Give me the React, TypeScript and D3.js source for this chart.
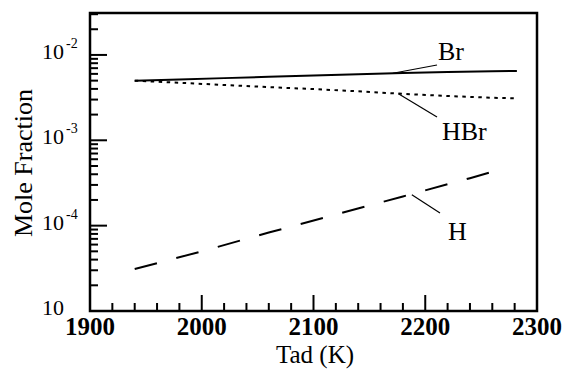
import * as d3 from "d3";

const width = 567;
const height = 370;
const marginTop = 13;
const marginRight = 30;
const marginBottom = 59;
const marginLeft = 90;

// temperatures (K) and mole fractions
const temps = [1940, 1980, 2020, 2060, 2100, 2140, 2180, 2220, 2260, 2282];
const br = [5.0e-3, 5.15e-3, 5.35e-3, 5.55e-3, 5.75e-3, 5.95e-3, 6.15e-3, 6.3e-3, 6.45e-3, 6.5e-3];
const hbr = [5.0e-3, 4.72e-3, 4.45e-3, 4.2e-3, 3.98e-3, 3.75e-3, 3.5e-3, 3.3e-3, 3.15e-3, 3.1e-3];
const hTemps = [1940, 2000, 2060, 2120, 2180, 2240, 2266];
const hFrac = [3.1e-5, 5.0e-5, 8.3e-5, 1.35e-4, 2.2e-4, 3.6e-4, 4.5e-4];

const xTicks = [1900, 2000, 2100, 2200, 2300];
const yDecades = [
  { v: 1e-2, exp: "-2" },
  { v: 1e-3, exp: "-3" },
  { v: 1e-4, exp: "-4" },
  { v: 1e-5, exp: "" },
];

// series labels: where the leader touches the curve, leader end, text position
const labels = [
  { name: "Br", t: 2171, v: 6.1e-3, ex: 437, ey: 65, lx: 438, ly: 60 },
  { name: "HBr", t: 2176, v: 3.52e-3, ex: 437, ey: 117, lx: 442, ly: 140 },
  { name: "H", t: 2188, v: 2.3e-4, ex: 440, ey: 213, lx: 448, ly: 240 },
];

const serif = '"Liberation Serif", "DejaVu Serif", serif';

const App = () => {
  const x = d3
    .scaleLinear()
    .domain([1900, 2300])
    .range([marginLeft, width - marginRight]);
  const y = d3
    .scaleLog()
    .domain([1e-5, 3.1e-2])
    .range([height - marginBottom, marginTop]);

  const line = d3
    .line<[number, number]>()
    .x((d) => x(d[0]))
    .y((d) => y(d[1]));

  const brPath = line(temps.map((t, i) => [t, br[i]]) as [number, number][]) as string;
  const hbrPath = line(temps.map((t, i) => [t, hbr[i]]) as [number, number][]) as string;
  const hPath = line(hTemps.map((t, i) => [t, hFrac[i]]) as [number, number][]) as string;

  const minorX = d3.range(1900, 2301, 20).filter((t) => t % 100 !== 0);
  const minorY: number[] = [];
  for (const dec of [1e-5, 1e-4, 1e-3, 1e-2]) {
    for (let m = 2; m <= 9; m++) {
      const v = dec * m;
      if (v <= y.domain()[1]) minorY.push(v);
    }
  }

  const x0 = marginLeft;
  const y0 = height - marginBottom;

  return (
    <svg
      width={width}
      height={height}
      viewBox={`0 0 ${width} ${height}`}
      fontFamily={serif}
      style={{ position: "absolute", left: 0, top: 0, background: "#fff" }}
    >
      {/* x ticks */}
      {minorX.map((t) => (
        <line key={`mx${t}`} x1={x(t)} x2={x(t)} y1={y0} y2={y0 - 8} stroke="#000" strokeWidth={2} />
      ))}
      {xTicks.map((t) => (
        <g key={`x${t}`}>
          <line x1={x(t)} x2={x(t)} y1={y0} y2={y0 - 16} stroke="#000" strokeWidth={2} />
          <text x={x(t)} y={y0 + 24} textAnchor="middle" fontWeight="bold" fontSize={25}>
            {t}
          </text>
        </g>
      ))}

      {/* y ticks */}
      {minorY.map((v, i) => (
        <line key={`my${i}`} x1={x0} x2={x0 + 8} y1={y(v)} y2={y(v)} stroke="#000" strokeWidth={2} />
      ))}
      {yDecades.map((d) => (
        <g key={`y${d.v}`}>
          <line x1={x0} x2={x0 + 17} y1={y(d.v)} y2={y(d.v)} stroke="#000" strokeWidth={2} />
          <text x={42} y={y(d.v) + 4} fontSize={22}>
            10
          </text>
          {d.exp && (
            <text x={66} y={y(d.v) - 7} fontSize={14}>
              {d.exp}
            </text>
          )}
        </g>
      ))}

      {/* frame */}
      <rect
        x={x0}
        y={marginTop}
        width={width - marginRight - marginLeft}
        height={height - marginBottom - marginTop}
        fill="none"
        stroke="#000"
        strokeWidth={2.5}
      />

      {/* series */}
      <path d={brPath} fill="none" stroke="#000" strokeWidth={2} />
      <path d={hbrPath} fill="none" stroke="#000" strokeWidth={2} strokeDasharray="3.5 4.5" />
      <path d={hPath} fill="none" stroke="#000" strokeWidth={2} strokeDasharray="23 20" />

      {/* labels with leaders */}
      {labels.map((l) => (
        <g key={l.name}>
          <line x1={x(l.t)} y1={y(l.v)} x2={l.ex} y2={l.ey} stroke="#000" strokeWidth={1.2} />
          <text x={l.lx} y={l.ly} fontSize={26}>
            {l.name}
          </text>
        </g>
      ))}

      {/* axis titles */}
      <text x={315} y={363} textAnchor="middle" fontSize={25}>
        Tad (K)
      </text>
      <text transform={`translate(32, 163) rotate(-90)`} textAnchor="middle" fontSize={26}>
        Mole Fraction
      </text>
    </svg>
  );
};

export default App;
